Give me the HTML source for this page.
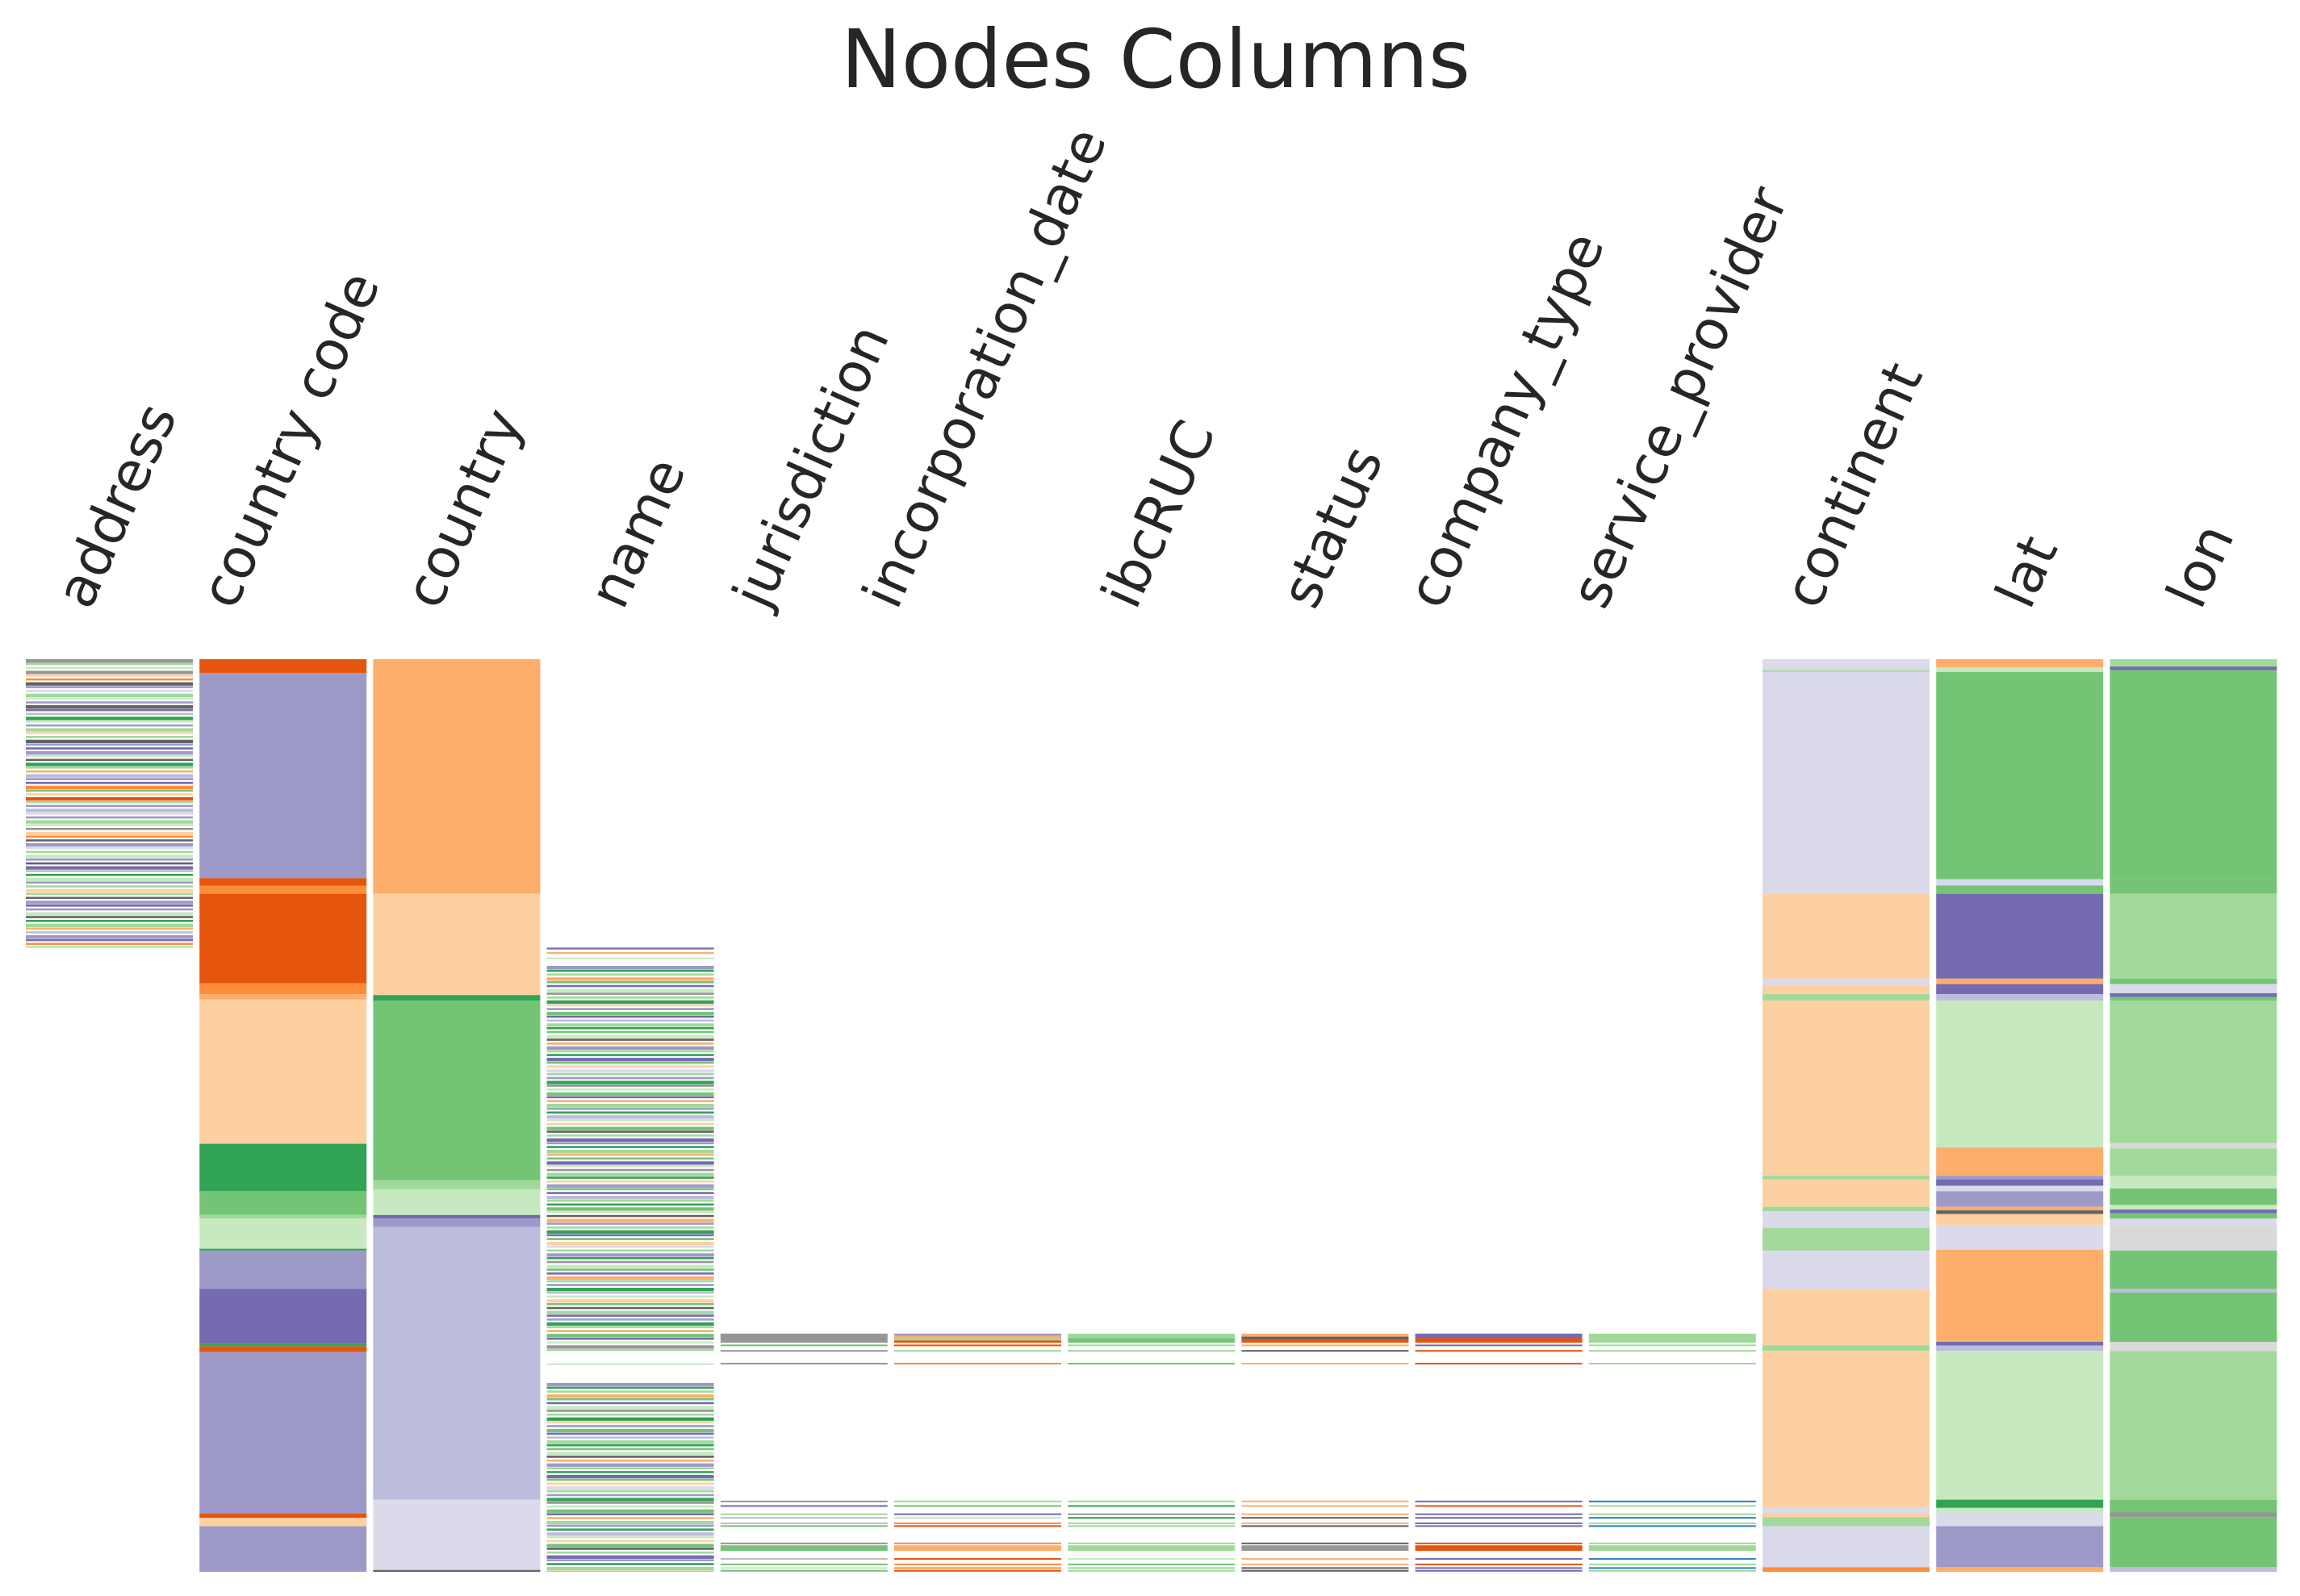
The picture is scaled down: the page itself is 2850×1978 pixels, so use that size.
<!DOCTYPE html>
<html><head><meta charset="utf-8"><title>Nodes Columns</title>
<style>
html,body{margin:0;padding:0;background:#fff;}
svg{display:block;}
text{font-family:"DejaVu Sans","Liberation Sans",sans-serif;fill:#262626;}
</style></head>
<body>
<svg id="chart" width="2850" height="1978" viewBox="0 0 2850 1978" xmlns="http://www.w3.org/2000/svg">
<rect width="2850" height="1978" fill="#fff"/>
<text x="1432" y="108" font-size="100" text-anchor="middle">Nodes Columns</text>
<g id="labels"></g>
<g id="cols"></g>
</svg>
<script>
const columns = ["address","country code","country","name","jurisdiction","incorporation_date","ibcRUC","status","company_type","service_provider","continent","lat","lon"];
const palette = {A:"#e6550d",B:"#fd8d3c",C:"#fdae6b",D:"#fdd0a2",E:"#31a354",F:"#74c476",G:"#a1d99b",H:"#c7e9c0",I:"#756bb1",J:"#9e9ac8",K:"#bcbddc",L:"#dadaeb",M:"#636363",N:"#969696",O:"#bdbdbd",P:"#d9d9d9",Q:"#3182bd"};
const countryCodeSegs = [[0,.015,"A"],[.015,.24,"J"],[.24,.248,"A"],[.248,.257,"B"],[.257,.355,"A"],[.355,.367,"B"],[.367,.373,"C"],[.373,.531,"D"],[.531,.583,"E"],[.583,.609,"F"],[.609,.613,"G"],[.613,.646,"H"],[.646,.648,"E"],[.648,.69,"J"],[.69,.75,"I"],[.75,.753,"E"],[.753,.759,"A"],[.759,.936,"J"],[.936,.941,"A"],[.941,.95,"D"],[.95,1,"J"]];
const countrySegs = [[0,.257,"C"],[.257,.368,"D"],[.368,.374,"E"],[.374,.571,"F"],[.571,.581,"G"],[.581,.609,"H"],[.609,.613,"I"],[.613,.622,"J"],[.622,.921,"K"],[.921,.998,"L"],[.998,1,"M"]];
const continentSegs = [[0,.012,"L"],[.012,.014,"G"],[.014,.257,"L"],[.257,.35,"D"],[.35,.357,"L"],[.357,.367,"D"],[.367,.374,"G"],[.374,.566,"D"],[.566,.57,"G"],[.57,.58,"D"],[.58,.6,"D"],[.6,.605,"G"],[.605,.612,"L"],[.612,.623,"L"],[.623,.648,"G"],[.648,.69,"L"],[.69,.752,"D"],[.752,.758,"G"],[.758,.93,"D"],[.93,.936,"L"],[.936,.94,"D"],[.94,.95,"G"],[.95,.995,"L"],[.995,1,"B"]];
const latSegs = [[0,.009,"C"],[.009,.014,"H"],[.014,.241,"F"],[.241,.248,"L"],[.248,.257,"F"],[.257,.35,"I"],[.35,.356,"C"],[.356,.367,"I"],[.367,.374,"K"],[.374,.535,"H"],[.535,.566,"C"],[.566,.57,"J"],[.57,.577,"I"],[.577,.583,"L"],[.583,.6,"J"],[.6,.604,"C"],[.604,.608,"M"],[.608,.62,"D"],[.62,.647,"L"],[.647,.69,"C"],[.69,.748,"C"],[.748,.752,"I"],[.752,.758,"K"],[.758,.921,"H"],[.921,.93,"E"],[.93,.935,"H"],[.935,.95,"L"],[.95,.995,"J"],[.995,1,"C"]];
const lonSegs = [[0,.008,"G"],[.008,.012,"I"],[.012,.241,"F"],[.241,.257,"F"],[.257,.35,"G"],[.35,.356,"F"],[.356,.366,"L"],[.366,.37,"I"],[.37,.374,"F"],[.374,.53,"G"],[.53,.536,"P"],[.536,.566,"G"],[.566,.58,"H"],[.58,.598,"F"],[.598,.603,"H"],[.603,.607,"I"],[.607,.613,"F"],[.613,.62,"L"],[.62,.648,"P"],[.648,.69,"F"],[.69,.694,"K"],[.694,.748,"F"],[.748,.758,"P"],[.758,.921,"G"],[.921,.935,"F"],[.935,.94,"N"],[.94,.995,"F"],[.995,1,"K"]];
const sparseBand = [["N"],["J","C","G","A"],["G","F"],["C","M","A"],["I","A"],["G"]];
const sparseLines = [.751,.757,.771,.922,.927,.936,.940,.946,.949,.968,.985,.991,.995,.998];
const sparseLineColors = [["F","N","N","N","I","G","O","O","F","N","O","F","P","F"],["A","G","B","G","F","I","H","B","A","B","A","B","B","A"],["G","G","F","G","E","N","E","G","G","G","H","F","G","G"],["C","M","C","C","C","C","M","C","M","M","C","C","M","M"],["I","A","A","I","A","I","I","I","I","A","I","A","I","I"],["G","G","G","Q","G","G","Q","G","Q","G","Q","G","Q","G"]];
const sparseBlock = [[.971,.977,"F"],[.971,.977,"C"],[.971,.977,"G"],[.971,.977,"N"],[.971,.977,"A"],[.971,.977,"G"]];
const addressStripes = "JGHNDBMJLGHJMIOEHJGDGMJIJHMEGCKJIBFDAGJKL".split("");
const addressRange = [0,.315];
const nameStripes = "JEGCFIHNGEDJFIKGEFHMCJGEIFDLGJENHFICGJEKHDFMGI".split("");
const nameRanges = [[.336,.758],[.793,1]];

const TOP = 817, BOT = 1948, H = BOT - TOP;
const X0 = 32, PITCH = 215.2, W = 207;
const yScale = f => TOP + f * H;
const xCol = i => X0 + i * PITCH;
const NS = "http://www.w3.org/2000/svg";
const colsG = document.getElementById("cols");
const labelsG = document.getElementById("labels");

function rect(g, i, f0, f1, key, name) {
  const r = document.createElementNS(NS, "rect");
  r.setAttribute("x", xCol(i));
  r.setAttribute("y", yScale(f0));
  r.setAttribute("width", W);
  r.setAttribute("height", Math.max(1, yScale(f1) - yScale(f0)));
  r.setAttribute("fill", palette[key] || key);
  
  
  g.appendChild(r);
}
function colGroup(i) {
  const g = document.createElementNS(NS, "g");
  
  
  colsG.appendChild(g);
  return g;
}
const ANG = 66, COS = Math.cos(ANG * Math.PI / 180);
columns.forEach((c, i) => {
  const t = document.createElementNS(NS, "text");
  t.setAttribute("font-size", "68");
  t.textContent = c;
  
  
  labelsG.appendChild(t);
  const L = t.getComputedTextLength();
  const cx = xCol(i) + W / 2 - L * COS / 2 + 30, cy = 758;
  t.setAttribute("x", cx); t.setAttribute("y", cy);
  t.setAttribute("transform", `rotate(-${ANG} ${cx} ${cy})`);
});
function stripes(i, f0, f1, seq, g) {
  const step = 0.0042;
  let k = 0;
  for (let f = f0; f < f1; f += step, k++) {
    const key = seq[k % seq.length];
    const thick = (k % 3 === 0) ? step * 0.9 : step * 0.55;
    rect(g, i, f, Math.min(f1, f + thick), key, 'stripe');
  }
}
let g = colGroup(0);
stripes(0, addressRange[0], addressRange[1], addressStripes, g);
[[0,.004,"N"]].forEach(s => rect(g,0,s[0],s[1],s[2],'segment'));
[[1,countryCodeSegs],[2,countrySegs],[10,continentSegs],[11,latSegs],[12,lonSegs]].forEach(([i,segs]) => {
  const gg = colGroup(i);
  segs.forEach(s => rect(gg, i, s[0], s[1], s[2], 'segment'));
});
g = colGroup(3);
[[.316,.318,"I"],[.321,.323,"C"],[.327,.328,"G"],[.772,.773,"G"]].forEach(s => rect(g,3,s[0],s[1],s[2],'segment'));
nameRanges.forEach(r => stripes(3, r[0], r[1], nameStripes, g));
for (let j = 0; j < 6; j++) {
  const i = 4 + j;
  const gg = colGroup(i);
  const band = sparseBand[j];
  const bh = (.749 - .739) / band.length;
  band.forEach((k, n) => rect(gg, i, .739 + n * bh, .739 + (n + 1) * bh, k, 'band'));
  sparseLines.forEach((f, n) => rect(gg, i, f, f + 0.0018, sparseLineColors[j][n], 'line'));
  const b = sparseBlock[j];
  rect(gg, i, b[0], b[1], b[2], 'block');
}
</script>
</body></html>
